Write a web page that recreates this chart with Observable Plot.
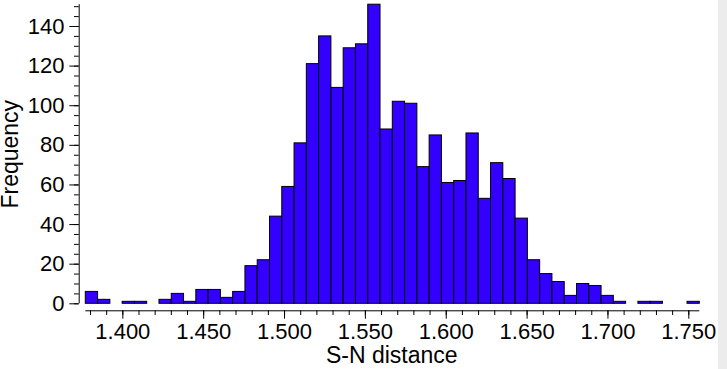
<!DOCTYPE html>
<html><head><meta charset="utf-8">
<script src="https://cdn.jsdelivr.net/npm/d3@7"></script>
<script src="https://cdn.jsdelivr.net/npm/@observablehq/plot@0.6"></script>
<style>
body{margin:0;background:#fff;}
#chart{position:absolute;left:0;top:0;}
#strip{position:absolute;left:718px;top:0;width:9px;height:369px;background:#ececec;}
</style></head><body>
<div id="chart"></div><div id="strip"></div>
<script>
// Histogram counts, one per bin (50 bins)
const counts = [6, 2, 0, 1, 1, 0, 2, 5, 1, 7,
                7, 3, 6, 19, 22, 44, 59, 81, 121, 135,
                109, 129, 131, 151, 88, 102, 101, 69, 85, 61,
                62, 86, 53, 71, 63, 43, 22, 15, 11, 4,
                10, 9, 4, 1, 0, 1, 1, 0, 0, 1];
const binStart = 1.3771;
const binWidth = 0.007594;
const xMajorTicks = [1.40, 1.45, 1.50, 1.55, 1.60, 1.65, 1.70, 1.75];
const xMinorTicks = [1.38,1.39,1.40,1.41,1.42,1.43,1.44,1.45,1.46,1.47,1.48,1.49,1.50,1.51,1.52,1.53,1.54,1.55,1.56,1.57,1.58,1.59,1.60,1.61,1.62,1.63,1.64,1.65,1.66,1.67,1.68,1.69,1.70,1.71,1.72,1.73,1.74,1.75];
const yMajorTicks = [0, 20, 40, 60, 80, 100, 120, 140];
const yMinorTicks = [0,5,10,15,20,25,30,35,40,45,50,55,60,65,70,75,80,85,90,95,100,105,110,115,120,125,130,135,140,145,150];
const xLabel = "S-N distance";
const yLabel = "Frequency";

const bins = counts.map((c, i) => ({x1: binStart + i * binWidth, x2: binStart + (i + 1) * binWidth, count: c}));
const binEnd = binStart + counts.length * binWidth;

const font = "'Liberation Sans', Arial, Helvetica, sans-serif";

const chart = Plot.plot({
  width: 727,
  height: 369,
  marginLeft: 78.7,
  marginRight: 27.7,
  marginTop: 4.2,
  marginBottom: 65.7,
  style: {fontFamily: font, background: "white", color: "black"},
  x: {domain: [binStart - 0.00408, binEnd]},
  y: {domain: [0, 151]},
  marks: [
    Plot.rectY(bins.filter(d => d.count > 0), {x1: "x1", x2: "x2", y: "count", fill: "#3300ff", stroke: "#000", strokeWidth: 1}),
    // y axis
    Plot.ruleX([binStart - 0.00408], {y1: 0, y2: 151, stroke: "#000", strokeWidth: 1}),
    Plot.axisY(yMinorTicks, {tickSize: 4.7, tickFormat: () => "", label: null, stroke: "#000"}),
    Plot.axisY(yMajorTicks, {tickSize: 9.4, tickPadding: 5.3, fontSize: 22, label: null, stroke: "#000", fill: "#000"}),
    // x axis
    Plot.ruleY([0], {x1: binStart, x2: binEnd, dy: 7, stroke: "#000", strokeWidth: 1}),
    Plot.axisX(xMinorTicks, {tickSize: 4.7, tickFormat: () => "", label: null, dy: 7, stroke: "#000"}),
    Plot.axisX(xMajorTicks, {tickSize: 8.4, tickPadding: 4.6, fontSize: 22, tickFormat: d3.format(".3f"), label: null, dy: 7, stroke: "#000", fill: "#000"}),
    // axis titles
    Plot.text([xLabel], {text: d => d, frameAnchor: "bottom", lineAnchor: "top", dy: 42.4, dx: 2.3, fontSize: 23, fill: "#000"}),
    Plot.text([yLabel], {text: d => d, frameAnchor: "left", rotate: -90, lineAnchor: "middle", textAnchor: "middle", dx: -68.6, fontSize: 23, fill: "#000"})
  ]
});
document.getElementById("chart").appendChild(chart);
</script>
</body></html>
